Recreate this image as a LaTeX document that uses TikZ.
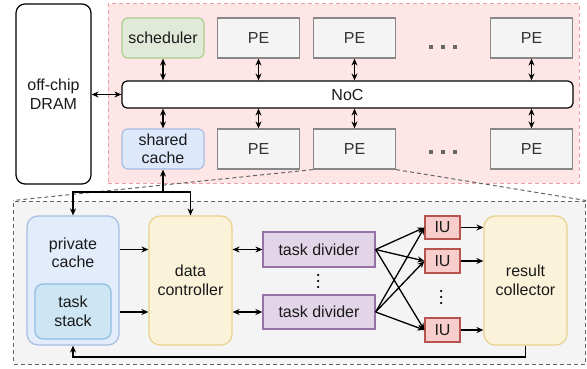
\documentclass[tikz,border=0pt]{standalone}
\usepackage{fontspec}
\setmainfont{Liberation Sans}
\usetikzlibrary{arrows.meta}
\definecolor{pinkfill}{RGB}{255,230,230}
\definecolor{pinkline}{RGB}{236,160,160}
\definecolor{grayfill}{RGB}{244,244,244}
\definecolor{grayline}{RGB}{100,100,100}
\definecolor{pefill}{RGB}{244,244,244}
\definecolor{peline}{RGB}{136,136,136}
\definecolor{schfill}{RGB}{225,234,217}
\definecolor{schline}{RGB}{168,206,140}
\definecolor{bluefill}{RGB}{221,232,251}
\definecolor{blueline}{RGB}{165,190,226}
\definecolor{pcfill}{RGB}{227,236,251}
\definecolor{tsfill}{RGB}{206,229,243}
\definecolor{tsline}{RGB}{140,190,225}
\definecolor{yfill}{RGB}{251,242,218}
\definecolor{yline}{RGB}{232,210,140}
\definecolor{tdfill}{RGB}{225,213,231}
\definecolor{tdline}{RGB}{150,115,166}
\definecolor{iufill}{RGB}{248,206,204}
\definecolor{iuline}{RGB}{184,84,80}
\definecolor{txt}{RGB}{26,26,26}
\tikzset{
  lbl/.style={font=\fontsize{16}{18.5}\selectfont, text=txt, align=center, inner sep=0pt},
  box/.style={draw, line width=1.2pt, inner sep=0pt, lbl},
  pebox/.style={box, fill=pefill, draw=peline, minimum width=82pt, minimum height=40pt, text=black!80},
  arr/.style={line width=1.3pt, -{Stealth[length=7pt,width=6pt]}},
  darr/.style={line width=1.3pt, {Stealth[length=7pt,width=6pt]}-{Stealth[length=7pt,width=6pt]}},
  dotsq/.style={fill=black!60, minimum size=4.2pt, inner sep=0pt, draw=none, rectangle},
  dotc/.style={fill=black, circle, minimum size=2.5pt, inner sep=0pt},
  zoomline/.style={grayline, line width=1pt, dash pattern=on 4pt off 3pt},
}
\begin{document}
\begin{tikzpicture}[x=1pt,y=-1pt]
\useasboundingbox (0,0) rectangle (587,369);
% regions
\node[draw=pinkline, fill=pinkfill, dash pattern=on 4pt off 3pt, line width=1pt, minimum width=471pt, minimum height=179pt, inner sep=0pt] (chip) at (343.5,93.5) {};
\node[draw=grayline, fill=grayfill, dash pattern=on 4pt off 3pt, line width=1pt, minimum width=572pt, minimum height=163pt, inner sep=0pt] (pe) at (299.5,282.5) {};
% top part
\node[box, draw=black, fill=white, rounded corners=9pt, minimum width=75pt, minimum height=180pt] (dram) at (53.5,94) {off-chip\\DRAM};
\node[box, fill=schfill, draw=schline, rounded corners=6pt, minimum width=82pt, minimum height=40pt] (sch) at (163,38) {scheduler};
\node[pebox] (pe1) at (258.5,38) {PE};
\node[pebox] (pe2) at (354.5,38) {PE};
\node[pebox] (pe3) at (531.5,38) {PE};
\node[box, draw=black, fill=white, rounded corners=5pt, minimum width=451pt, minimum height=27pt] (noc) at (347.5,94.5) {NoC};
\node[box, fill=bluefill, draw=blueline, rounded corners=6pt, minimum width=82pt, minimum height=40pt] (sc) at (163,149) {shared\\cache};
\node[pebox] (pe4) at (258.5,149) {PE};
\node[pebox] (pe5) at (354.5,149) {PE};
\node[pebox] (pe6) at (531.5,149) {PE};
\foreach \n/\y in {a/47,b/152}{
  \node[dotsq] (d\n1) at (431,\y) {};
  \node[dotsq] (d\n2) at (443,\y) {};
  \node[dotsq] (d\n3) at (455,\y) {};
}
\draw[darr] (dram.east |- noc.west) -- (noc.west);
\foreach \t in {sch,pe1,pe2,pe3}{\draw[darr] (\t.south) -- (\t.south |- noc.north);}
\foreach \t in {sc,pe4,pe5,pe6}{\draw[darr] (\t.north) -- (\t.north |- noc.south);}
% zoom lines
\draw[zoomline] (pe5.south west) -- (pe.north west);
\draw[zoomline] (pe5.south east) -- (pe.north east);
% PE detail
\node[box, fill=pcfill, draw=blueline, rounded corners=11pt, minimum width=92pt, minimum height=129pt] (pc) at (73,280.5) {};
\node[lbl] (pct) at (73,253) {private\\cache};
\node[box, fill=tsfill, draw=tsline, rounded corners=8pt, minimum width=76pt, minimum height=55pt] (ts) at (73,311.5) {task\\stack};
\node[box, fill=yfill, draw=yline, rounded corners=11pt, minimum width=83pt, minimum height=129pt] (dc) at (190.5,280.5) {data\\controller};
\node[box, fill=tdfill, draw=tdline, minimum width=112pt, minimum height=35pt] (td1) at (319,249.5) {task divider};
\node[box, fill=tdfill, draw=tdline, minimum width=112pt, minimum height=34pt] (td2) at (319,312) {task divider};
\node[box, fill=iufill, draw=iuline, minimum width=35pt, minimum height=23pt] (iu1) at (442.5,227.5) {IU};
\node[box, fill=iufill, draw=iuline, minimum width=35pt, minimum height=24pt] (iu2) at (442.5,261) {IU};
\node[box, fill=iufill, draw=iuline, minimum width=35pt, minimum height=24pt] (iu3) at (442.5,330) {IU};
\node[box, fill=yfill, draw=yline, rounded corners=11pt, minimum width=83pt, minimum height=129pt] (rc) at (525.5,280.5) {result\\collector};
\foreach \y [count=\i] in {275,281,287}{\node[dotc] (vd\i) at (318,\y) {};}
\foreach \y [count=\i] in {291,297,303}{\node[dotc] (ud\i) at (441,\y) {};}
% connectors
\coordinate (j) at (163,192);
\draw[arr] (j) -- (sc.south);
\draw[arr] (j) -| (pc.north);
\draw[arr] (j) -| (dc.north);
\draw[arr] (pc.east |- td1.west) -- (dc.west |- td1.west);
\draw[arr] (pc.east |- td2.west) -- (dc.west |- td2.west);
\draw[darr] (dc.east |- td1.west) -- (td1.west);
\draw[darr] (dc.east |- td2.west) -- (td2.west);
\foreach \s in {td1,td2}{\foreach \d in {iu1,iu2,iu3}{\draw[arr] (\s.east) -- (\d.west);}}
\foreach \d in {iu1,iu2,iu3}{\draw[arr] (\d.east) -- (rc.west |- \d.east);}
\coordinate (fb) at (525.5,357);
\draw[arr] (rc.south) -- (fb) -| (pc.south);
\end{tikzpicture}
\end{document}
